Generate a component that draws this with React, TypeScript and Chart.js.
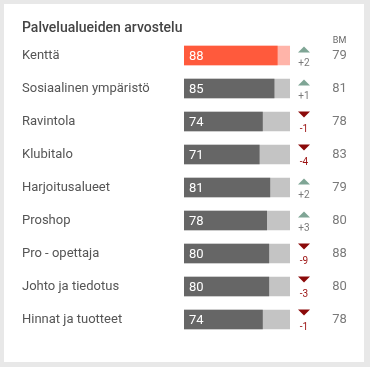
import React, { useEffect, useRef } from "react";
import { Chart, registerables } from "chart.js";

Chart.register(...registerables);

const categories = [
  "Kenttä",
  "Sosiaalinen ympäristö",
  "Ravintola",
  "Klubitalo",
  "Harjoitusalueet",
  "Proshop",
  "Pro - opettaja",
  "Johto ja tiedotus",
  "Hinnat ja tuotteet",
];
const scores = [88, 85, 74, 71, 81, 78, 80, 80, 74];
const changes = [2, 1, -1, -4, 2, 3, -9, -3, -1];
const benchmarks = [79, 81, 78, 83, 79, 80, 88, 80, 78];
const maxScore = 100;
const highlightIndex = 0;

const FONT = "Roboto, 'Open Sans', sans-serif";

export default function App() {
  const ref = useRef<HTMLCanvasElement | null>(null);

  useEffect(() => {
    if (!ref.current) return;
    const fillColors = scores.map((_, i) => (i === highlightIndex ? "#ff5a3c" : "#666666"));
    const bgColors = scores.map((_, i) => (i === highlightIndex ? "#ffb4a9" : "#c4c4c4"));

    const extras = {
      id: "extras",
      afterDatasetsDraw(chart: any) {
        const ctx = chart.ctx;
        const xs = chart.scales.x;
        const ys = chart.scales.y;
        const area = chart.chartArea;
        const arrowX = area.right + 14;
        const bmX = area.right + 49.5;
        ctx.save();
        ctx.textBaseline = "middle";
        // BM header
        ctx.font = `9px ${FONT}`;
        ctx.fillStyle = "#666666";
        ctx.textAlign = "center";
        ctx.fillText("BM", bmX, ys.getPixelForValue(0) - 15);
        categories.forEach((_, i) => {
          const y = ys.getPixelForValue(i);
          // value in bar
          ctx.font = `13px ${FONT}`;
          ctx.fillStyle = "#ffffff";
          ctx.textAlign = "left";
          ctx.fillText(String(scores[i]), xs.getPixelForValue(0) + 5, y + 1);
          // arrow
          const c = changes[i];
          const up = c > 0;
          ctx.beginPath();
          if (up) {
            ctx.fillStyle = "#7fa595";
            ctx.moveTo(arrowX - 6, y - 3);
            ctx.lineTo(arrowX + 6, y - 3);
            ctx.lineTo(arrowX, y - 9);
          } else {
            ctx.fillStyle = "#8b0a0a";
            ctx.moveTo(arrowX - 6, y - 10);
            ctx.lineTo(arrowX + 6, y - 10);
            ctx.lineTo(arrowX, y - 4);
          }
          ctx.closePath();
          ctx.fill();
          ctx.font = `10px ${FONT}`;
          ctx.fillStyle = up ? "#7a7a7a" : "#9b1010";
          ctx.textAlign = "center";
          ctx.fillText(up ? `+${c}` : `${c}`, arrowX, y + 7.5);
          // BM
          ctx.font = `13px ${FONT}`;
          ctx.fillStyle = "#7a7a7a";
          ctx.fillText(String(benchmarks[i]), bmX, y + 0.5);
        });
        ctx.restore();
      },
    };

    const chart = new Chart(ref.current, {
      type: "bar",
      data: {
        labels: categories,
        datasets: [
          {
            label: "Score",
            data: scores,
            backgroundColor: fillColors,
            grouped: false,
            barThickness: 19,
            order: 0,
          },
          {
            label: "Max",
            data: scores.map(() => maxScore),
            backgroundColor: bgColors,
            grouped: false,
            barThickness: 19,
            order: 1,
          },
        ],
      },
      options: {
        indexAxis: "y",
        animation: false,
        responsive: false,
        layout: { padding: { left: 22, right: 80, top: 10, bottom: 31 } },
        plugins: {
          legend: { display: false },
          tooltip: { enabled: false },
          title: {
            display: true,
            text: "Palvelualueiden arvostelu",
            align: "start",
            color: "#444444",
            font: { family: FONT, size: 14, weight: "500" },
            padding: { top: 9.6, bottom: 2.6 },
          },
        },
        scales: {
          x: { display: false, min: 0, max: maxScore },
          y: {
            afterFit: (s: any) => {
              s.width = 162;
            },
            grid: { display: false },
            border: { display: false },
            ticks: {
              crossAlign: "far",
              color: "#555555",
              font: { family: FONT, size: 13 },
              padding: 0,
            },
          },
        },
      },
      plugins: [extras],
    } as any);
    return () => chart.destroy();
  }, []);

  return (
    <div style={{ position: "fixed", left: 0, top: 0, width: 370, height: 367, background: "#e8e8e8" }}>
      <div style={{ position: "absolute", left: 4, top: 4, width: 360, height: 358, background: "#ffffff" }} />
      <canvas ref={ref} width={370} height={367} style={{ position: "absolute", left: 0, top: 0 }} />
    </div>
  );
}
